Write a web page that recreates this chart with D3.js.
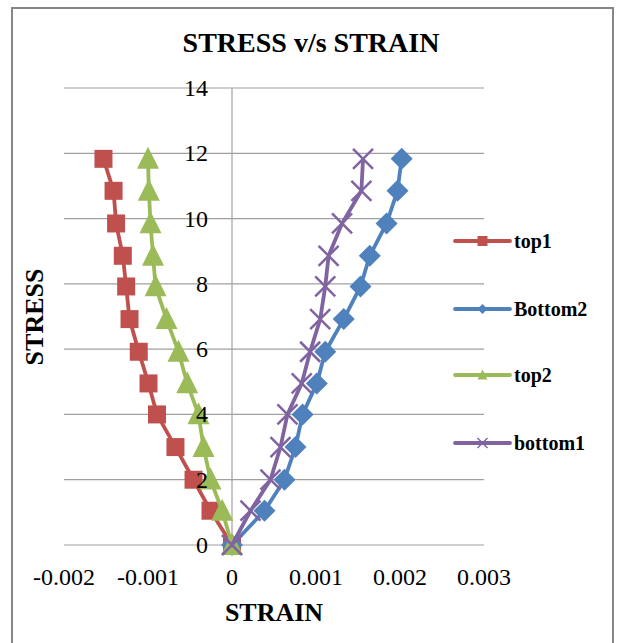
<!DOCTYPE html>
<html>
<head>
<meta charset="utf-8">
<script src="https://cdn.jsdelivr.net/npm/d3@7"></script>
<style>
  body { margin: 0; background: #fff; }
  text { font-family: 'Liberation Serif', 'Times New Roman', serif; }
</style>
</head>
<body>
<svg id="chart" width="622" height="643"></svg>
<script>
// stress levels (same for every series)
const stress = [0, 1.05, 2.0, 3.0, 4.0, 4.95, 5.92, 6.92, 7.92, 8.86, 9.85, 10.85, 11.83]

const top1 = [0, -0.000256, -0.000458, -0.000673, -0.000893, -0.000994, -0.00111, -0.00122, -0.00126, -0.0013, -0.00138, -0.00141, -0.00153]
const bottom2 = [0, 0.000387, 0.000625, 0.000756, 0.00084, 0.00101, 0.00111, 0.00133, 0.00153, 0.00164, 0.00184, 0.00197, 0.00202]
const top2 = [0, -0.000117, -0.000256, -0.000339, -0.000399, -0.000533, -0.000637, -0.00078, -0.00091, -0.00094, -0.00097, -0.00099, -0.001]
const bottom1 = [0, 0.00022, 0.000458, 0.000577, 0.00066, 0.00083, 0.00093, 0.00105, 0.00111, 0.00115, 0.00131, 0.00154, 0.00156]

const xTicks = [-0.002, -0.001, 0, 0.001, 0.002, 0.003]
const yTicks = [0, 2, 4, 6, 8, 10, 12, 14]

const series = [
  { name: 'top1', values: top1, color: '#C0504D', marker: 'square' },
  { name: 'Bottom2', values: bottom2, color: '#4F81BD', marker: 'diamond' },
  { name: 'top2', values: top2, color: '#9BBB59', marker: 'triangle' },
  { name: 'bottom1', values: bottom1, color: '#8064A2', marker: 'cross' },
]

const svg = d3.select('#chart')
const margin = { top: 88, left: 64 }
const width = 420
const height = 457

// outer frame
svg.append('rect')
  .attr('x', 12).attr('y', 8)
  .attr('width', 601).attr('height', 660)
  .attr('fill', '#fff')
  .attr('stroke', '#868686')
  .attr('stroke-width', 2)

const g = svg.append('g').attr('transform', 'translate(' + margin.left + ',' + margin.top + ')')

const x = d3.scaleLinear().domain([-0.002, 0.003]).range([0, width])
const y = d3.scaleLinear().domain([0, 14]).range([height, 0])

// horizontal gridlines
g.append('g')
  .selectAll('line')
  .data(yTicks)
  .join('line')
  .attr('x1', 0).attr('x2', width)
  .attr('y1', (d) => y(d)).attr('y2', (d) => y(d))
  .attr('stroke', '#a0a0a0')
  .attr('stroke-width', 1.2)

// y axis at strain = 0
g.append('line')
  .attr('x1', x(0)).attr('x2', x(0))
  .attr('y1', 0).attr('y2', height)
  .attr('stroke', '#a0a0a0')
  .attr('stroke-width', 1.2)

const line = d3.line()
  .x((d, i) => x(d))
  .y((d, i) => y(stress[i]))

const markerPath = (type, s) => {
  if (type === 'square') return d3.symbol(d3.symbolSquare, s * s)()
  if (type === 'diamond') return `M0,${-s / 2}L${s / 2},0L0,${s / 2}L${-s / 2},0Z`
  if (type === 'triangle') return `M0,${-s * 0.55}L${s / 2},${s * 0.45}L${-s / 2},${s * 0.45}Z`
  return `M${-s / 2},${-s / 2}L${s / 2},${s / 2}M${s / 2},${-s / 2}L${-s / 2},${s / 2}`
}
const markerSize = { square: 18, diamond: 22, triangle: 22, cross: 20 }

series.forEach((s) => {
  g.append('path')
    .datum(s.values)
    .attr('fill', 'none')
    .attr('stroke', s.color)
    .attr('stroke-width', 3.8)
    .attr('stroke-linejoin', 'round')
    .attr('d', line)

  g.append('g')
    .selectAll('path')
    .data(s.values)
    .join('path')
    .attr('transform', (d, i) => 'translate(' + x(d) + ',' + y(stress[i]) + ')')
    .attr('d', markerPath(s.marker, markerSize[s.marker]))
    .attr('fill', s.marker === 'cross' ? 'none' : s.color)
    .attr('stroke', s.color)
    .attr('stroke-width', s.marker === 'cross' ? 2.5 : 0)
})

// y tick labels (drawn above the series, like the original)
g.append('g')
  .selectAll('text')
  .data(yTicks)
  .join('text')
  .attr('x', x(0) - 24)
  .attr('y', (d) => y(d) + 8)
  .attr('text-anchor', 'end')
  .attr('font-size', 24)
  .text((d) => d)

// x tick labels
g.append('g')
  .selectAll('text')
  .data(xTicks)
  .join('text')
  .attr('x', (d) => x(d))
  .attr('y', height + 40)
  .attr('text-anchor', 'middle')
  .attr('font-size', 24)
  .text((d) => (d === 0 ? '0' : d3.format('.3f')(d).replace('−', '-')))

// legend
const legendY = [241, 309, 375, 443]
series.forEach((s, i) => {
  const lg = svg.append('g').attr('transform', 'translate(455,' + legendY[i] + ')')
  lg.append('line')
    .attr('x1', 0).attr('x2', 55)
    .attr('stroke', s.color)
    .attr('stroke-width', 3.8)
    .attr('stroke-linecap', 'round')
  lg.append('path')
    .attr('transform', 'translate(27.5,0)')
    .attr('d', markerPath(s.marker, 10))
    .attr('fill', s.marker === 'cross' ? 'none' : s.color)
    .attr('stroke', s.color)
    .attr('stroke-width', s.marker === 'cross' ? 1.5 : 0)
  lg.append('text')
    .attr('x', 59)
    .attr('y', 7)
    .attr('font-size', 20)
    .attr('font-weight', 'bold')
    .text(s.name)
})

// title and axis titles
svg.append('text')
  .attr('x', 311).attr('y', 52)
  .attr('text-anchor', 'middle')
  .attr('font-size', 28)
  .attr('font-weight', 'bold')
  .text('STRESS v/s STRAIN')

svg.append('text')
  .attr('x', 274).attr('y', 621)
  .attr('text-anchor', 'middle')
  .attr('font-size', 26)
  .attr('font-weight', 'bold')
  .text('STRAIN')

svg.append('text')
  .attr('transform', 'translate(43,317) rotate(-90)')
  .attr('text-anchor', 'middle')
  .attr('font-size', 26)
  .attr('font-weight', 'bold')
  .text('STRESS')
</script>
</body>
</html>
